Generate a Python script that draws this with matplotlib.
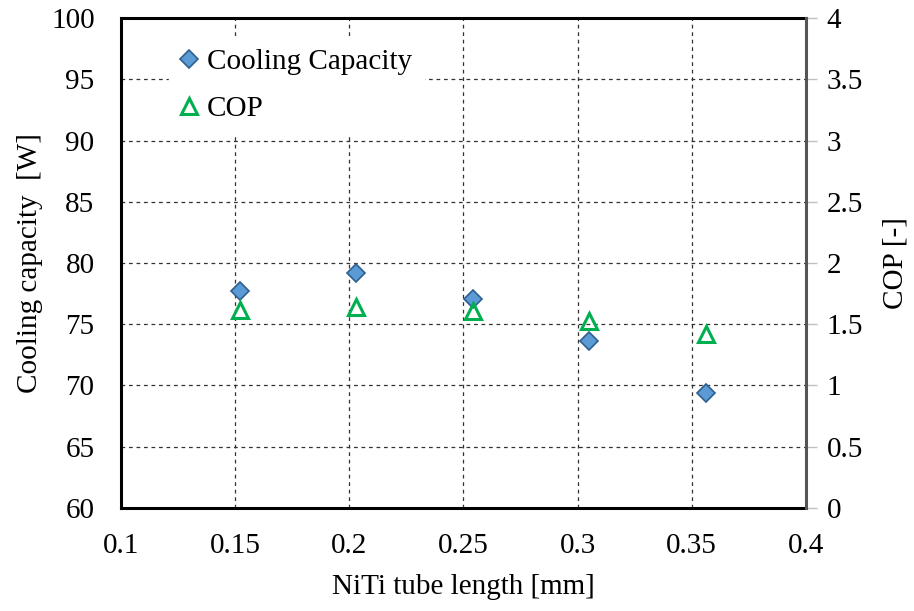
import matplotlib.pyplot as plt
from matplotlib.ticker import MultipleLocator

plt.rcParams['font.family'] = ['Liberation Serif', 'DejaVu Serif']

length = [0.152, 0.203, 0.254, 0.305, 0.356]
cooling = [77.7, 79.2, 77.1, 73.6, 69.4]
cop = [1.62, 1.64, 1.61, 1.53, 1.42]

fig = plt.figure(figsize=(9.14, 6.11), dpi=100)
ax = fig.add_axes([0.1324, 0.1686, 0.7494, 0.8019])
ax2 = ax.twinx()

h1, = ax.plot(length, cooling, linestyle='none', marker='D', markersize=9,
              markerfacecolor='#5B9BD5', markeredgecolor='#2F5F8F',
              markeredgewidth=1.2, label='Cooling Capacity', zorder=3)
h2, = ax2.plot(length, cop, linestyle='none', marker='^', markersize=11,
               markerfacecolor='none', markeredgecolor='#00B050',
               markeredgewidth=2.2, label='COP', zorder=3)

ax.set_xlim(0.1, 0.4)
ax.set_ylim(60, 100)
ax2.set_ylim(0, 4)
ax.yaxis.set_major_locator(MultipleLocator(5))

ax.set_xticks([0.1, 0.15, 0.2, 0.25, 0.3, 0.35, 0.4])
ax.set_xticklabels(['0.1', '0.15', '0.2', '0.25', '0.3', '0.35', '0.4'])
ax2.set_yticks([0, 0.5, 1, 1.5, 2, 2.5, 3, 3.5, 4])
ax2.set_yticklabels(['0', '0.5', '1', '1.5', '2', '2.5', '3', '3.5', '4'])

ax.grid(True, linestyle=(0, (3, 3)), color='#333333', linewidth=0.9)
ax.set_axisbelow(True)

ax.tick_params(axis='x', length=0, labelsize=21, pad=18)
ax.tick_params(axis='y', length=0, labelsize=21, pad=19)
ax2.tick_params(axis='y', length=8, width=1, color='#C0C0C0',
                labelsize=21, pad=7)

for s in ['left', 'bottom', 'top']:
    ax.spines[s].set_linewidth(2.2)
    ax.spines[s].set_color('black')
ax.spines['right'].set_visible(False)
for s in ['left', 'bottom', 'top']:
    ax2.spines[s].set_visible(False)
ax2.spines['right'].set_linewidth(2.2)
ax2.spines['right'].set_color('#555555')

ax.set_xlabel('NiTi tube length [mm]', fontsize=21, labelpad=11)
ax.set_ylabel('Cooling capacity  [W]', fontsize=21, labelpad=6)
ax2.set_ylabel('COP [-]', fontsize=21, labelpad=14)

leg = ax2.legend(handles=[h1, h2], loc='upper left',
                 bbox_to_anchor=(0.07, 0.962), fontsize=21,
                 frameon=True, fancybox=False, framealpha=1,
                 edgecolor='white', facecolor='white',
                 handlelength=0.6, handletextpad=0.3,
                 borderpad=0.4, labelspacing=0.72,
                 borderaxespad=0)

fig.savefig('out.png', dpi=100)
